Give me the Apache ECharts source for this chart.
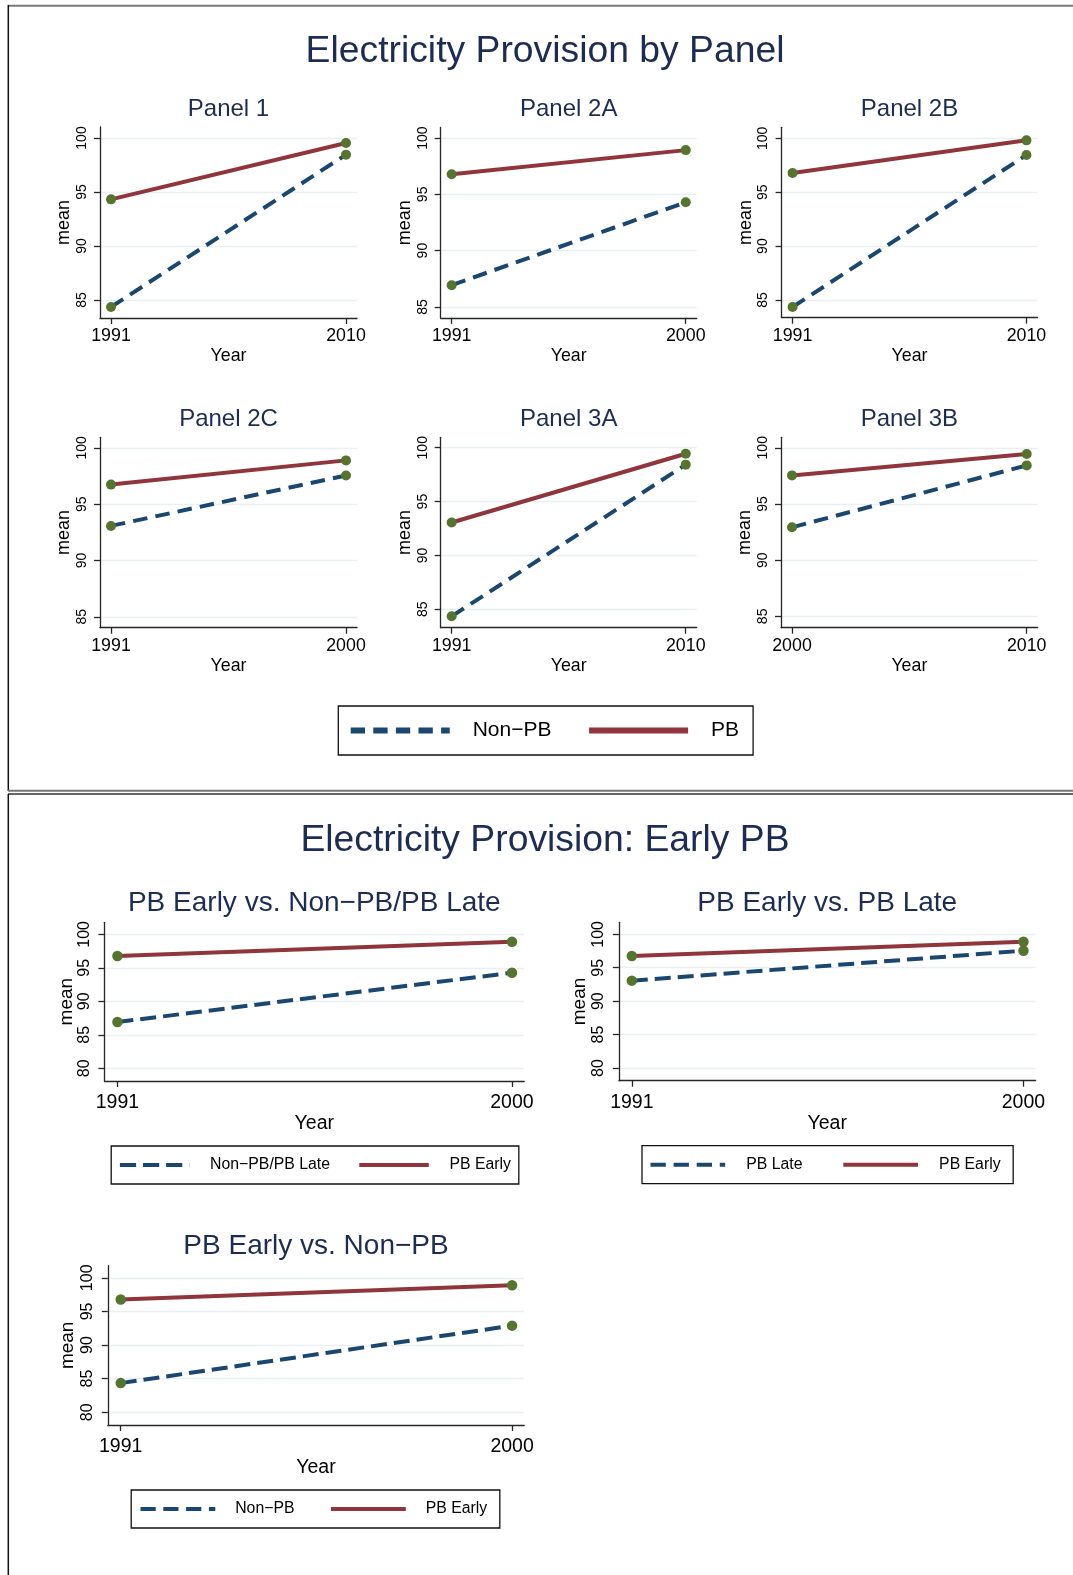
<!DOCTYPE html>
<html>
<head>
<meta charset="utf-8">
<script src="https://cdn.jsdelivr.net/npm/echarts@6/dist/echarts.min.js"></script>
<style>
html, body { margin: 0; padding: 0; background: #fff; }
#chart { width: 1073px; height: 1575px; }
</style>
</head>
<body>
<div id="chart"></div>
<script>
// ---- data ----
const mainTitles = ['Electricity Provision by Panel', 'Electricity Provision: Early PB'];

const panelNames = ['Panel 1', 'Panel 2A', 'Panel 2B', 'Panel 2C', 'Panel 3A', 'Panel 3B'];
const panelYears = [[1991, 2010], [1991, 2000], [1991, 2010], [1991, 2000], [1991, 2010], [2000, 2010]];
const panelNonPB = [[84.35, 98.46], [86.93, 94.30], [84.35, 98.45], [93.07, 97.55], [84.35, 98.43], [92.92, 98.43]];
const panelPB = [[94.32, 99.54], [96.79, 98.93], [96.78, 99.81], [96.74, 98.89], [93.06, 99.44], [97.54, 99.44]];
const panelYRange = [[83.33, 101.02], [84.03, 100.94], [83.36, 101.02], [84.03, 100.94], [83.29, 100.97], [83.99, 100.93]];
const panelTicks = [85, 90, 95, 100];

const earlyNames = ['PB Early vs. Non\u2212PB/PB Late', 'PB Early vs. PB Late', 'PB Early vs. Non\u2212PB'];
const earlyYears = [1991, 2000];
const earlyOther = [[86.9, 94.27], [93.07, 97.55], [84.33, 92.88]];
const earlyPB = [[96.76, 98.9], [96.76, 98.9], [96.76, 98.9]];
const earlyOtherLabels = ['Non\u2212PB/PB Late', 'PB Late', 'Non\u2212PB'];
const earlyTicks = [80, 85, 90, 95, 100];
const earlyYRange = [78.1, 101.8];

// ---- styles / layout ----
const FONT = '"Liberation Sans", Arial, Helvetica, sans-serif';
const BLUE = '#1a476f';
const RED = '#90353b';
const GREEN = '#55752f';
const TITLE = '#1c2c52';
const AXIS = '#262626';
const GRIDLINE = '#e8f0f2';

const panelGrids = [
    { left: 100, top: 127, width: 257, height: 191 },
    { left: 440.7, top: 127.5, width: 256, height: 190.3 },
    { left: 781.6, top: 127.3, width: 255.8, height: 190.4 },
    { left: 100, top: 437.3, width: 257, height: 190.4 },
    { left: 440.7, top: 437.3, width: 256, height: 190.4 },
    { left: 781, top: 437.3, width: 256.7, height: 190.4 }
];
const earlyGrids = [
    { left: 104.4, top: 922.3, width: 419.8, height: 158.7 },
    { left: 618.9, top: 922.3, width: 416.7, height: 158.4 },
    { left: 107.8, top: 1265.7, width: 416.4, height: 159.3 }
];
const panelTitleY = [109, 109, 109, 419, 419, 419];
const earlyTitleY = [903.3, 903.3, 1246.3];
const earlyNameGap = [28.3, 30, 31];

const dashPath = (w, h, dash, gap) => {
    let p = '';
    for (let x = 0; x < w; x += dash + gap) {
        const d = Math.min(dash, w - x);
        p += 'M' + x + ',0h' + d + 'v' + h + 'h' + (-d) + 'z';
    }
    return 'path://' + p;
};

const grids = [];
const xAxes = [];
const yAxes = [];
const series = [];
const titles = [];

const makeX = (i, years, lo, hi, fs, margin, gap) => ({
    type: 'value', gridIndex: i, min: lo, max: hi,
    name: 'Year', nameLocation: 'middle', nameGap: gap, nameMoveOverlap: false,
    nameTextStyle: { fontSize: fs, color: '#000', fontFamily: FONT },
    axisLine: { show: true, onZero: false, lineStyle: { color: AXIS, width: 1.3 } },
    axisTick: { show: true, length: 6, customValues: years, lineStyle: { color: AXIS, width: 1.3 } },
    axisLabel: { customValues: years, fontSize: fs, color: '#000', margin: margin, fontFamily: FONT,
        formatter: v => String(v) },
    splitLine: { show: false }
});
const makeY = (i, lo, hi, ticks, fs, nameFs, margin, gap) => ({
    type: 'value', gridIndex: i, min: lo, max: hi,
    name: 'mean', nameLocation: 'middle', nameRotate: 90, nameGap: gap, nameMoveOverlap: false,
    nameTextStyle: { fontSize: nameFs, color: '#000', fontFamily: FONT },
    axisLine: { show: true, onZero: false, lineStyle: { color: AXIS, width: 1.3 } },
    axisTick: { show: true, length: 6, customValues: ticks, lineStyle: { color: AXIS, width: 1.3 } },
    axisLabel: { customValues: ticks, rotate: 90, fontSize: fs, color: '#000', margin: margin, fontFamily: FONT },
    splitLine: { show: true, lineStyle: { color: GRIDLINE, width: 1.3 } }
});
const makeLine = (name, i, years, vals, color, dash, size) => ({
    type: 'line', name: name, xAxisIndex: i, yAxisIndex: i,
    data: years.map((y, k) => [y, vals[k]]),
    symbol: 'circle', symbolSize: size,
    itemStyle: { color: GREEN },
    lineStyle: { color: color, width: 4, type: dash, cap: 'butt' },
    emphasis: { disabled: true },
    silent: true
});

// top section: six panels
panelNames.forEach((name, i) => {
    const g = panelGrids[i];
    const yrs = panelYears[i];
    const span = yrs[1] - yrs[0];
    grids.push(Object.assign({ outerBoundsMode: 'none' }, g));
    const idx = grids.length - 1;
    xAxes.push(makeX(idx, yrs, yrs[0] - span * 11 / 235, yrs[1] + span * 11 / 235, 17.8, 9.5, 29.5));
    yAxes.push(makeY(idx, panelYRange[i][0], panelYRange[i][1], panelTicks, 14, 18, 11, 27));
    series.push(makeLine('Non\u2212PB', idx, yrs, panelNonPB[i], BLUE, [14.5, 8.2], 10));
    series.push(makeLine('PB', idx, yrs, panelPB[i], RED, 'solid', 10));
    titles.push({ text: name, left: g.left + g.width / 2, top: panelTitleY[i], padding: 0,
        textAlign: 'center', textVerticalAlign: 'middle',
        textStyle: { fontSize: 24, fontWeight: 'normal', color: TITLE, fontFamily: FONT } });
});

// bottom section: early PB comparisons
earlyNames.forEach((name, j) => {
    const g = earlyGrids[j];
    const span = earlyYears[1] - earlyYears[0];
    grids.push(Object.assign({ outerBoundsMode: 'none' }, g));
    const idx = grids.length - 1;
    xAxes.push(makeX(idx, earlyYears, earlyYears[0] - span * 0.033, earlyYears[1] + span * 0.031, 19.5, 11.5, 33));
    yAxes.push(makeY(idx, earlyYRange[0], earlyYRange[1], earlyTicks, 16, 19, 12, earlyNameGap[j]));
    series.push(makeLine(earlyOtherLabels[j], idx, earlyYears, earlyOther[j], BLUE, [16, 7], 10.5));
    series.push(makeLine('PB Early', idx, earlyYears, earlyPB[j], RED, 'solid', 10.5));
    titles.push({ text: name, left: g.left + g.width / 2, top: earlyTitleY[j], padding: 0,
        textAlign: 'center', textVerticalAlign: 'middle',
        textStyle: { fontSize: 28, fontWeight: 'normal', color: TITLE, fontFamily: FONT } });
});

titles.push({ text: mainTitles[0], left: 545, top: 51.5, padding: 0, textAlign: 'center', textVerticalAlign: 'middle',
    textStyle: { fontSize: 37.3, fontWeight: 'normal', color: TITLE, fontFamily: FONT } });
titles.push({ text: mainTitles[1], left: 545, top: 841, padding: 0, textAlign: 'center', textVerticalAlign: 'middle',
    textStyle: { fontSize: 37.3, fontWeight: 'normal', color: TITLE, fontFamily: FONT } });

const legendItem = (name, color, icon) => ({
    name: name, icon: icon, itemStyle: { color: color, borderColor: color, borderWidth: 0 }
});
const makeLegend = (left, top, pad, gap, w, h, fs, textPad, dash, gapDash, names) => ({
    orient: 'horizontal', left: left, top: top, padding: pad, itemGap: gap,
    itemWidth: w, itemHeight: h, selectedMode: false,
    borderColor: '#111', borderWidth: 1.3, backgroundColor: '#fff',
    textStyle: { fontSize: fs, color: '#000', fontFamily: FONT, padding: [0, 0, 0, textPad] },
    data: [legendItem(names[0], BLUE, dashPath(w, h, dash, gapDash)), legendItem(names[1], RED, 'rect')]
});

const legends = [
    makeLegend(338.3, 706, [14, 14, 14, 12.4], 37.6, 99, 6, 21, 18, 14.3, 8.3, ['Non\u2212PB', 'PB']),
    makeLegend(111.2, 1146, [11, 7.9, 11, 8.7], 29.3, 69.5, 4, 15.8, 15.7, 16.2, 6.9, [earlyOtherLabels[0], 'PB Early']),
    makeLegend(642, 1145.7, [11, 12.6, 11, 8.5], 40.8, 74.7, 4, 15.8, 16.1, 15.3, 7.8, [earlyOtherLabels[1], 'PB Early']),
    makeLegend(131.2, 1490, [11, 12.7, 11, 9.3], 36.5, 74.8, 4, 15.8, 14.9, 15.2, 7.6, [earlyOtherLabels[2], 'PB Early'])
];

const chart = echarts.init(document.getElementById('chart'));
chart.setOption({
    animation: false,
    backgroundColor: '#fff',
    textStyle: { fontFamily: FONT },
    title: titles,
    legend: legends,
    grid: grids,
    xAxis: xAxes,
    yAxis: yAxes,
    series: series,
    graphic: [
        { type: 'line', shape: { x1: 8, y1: 5.7, x2: 1073, y2: 5.7 }, style: { stroke: '#777', lineWidth: 2 } },
        { type: 'line', shape: { x1: 8.3, y1: 5, x2: 8.3, y2: 791 }, style: { stroke: '#111', lineWidth: 1.5 } },
        { type: 'line', shape: { x1: 8, y1: 790.7, x2: 1073, y2: 790.7 }, style: { stroke: '#777', lineWidth: 2 } },
        { type: 'line', shape: { x1: 8, y1: 794, x2: 1073, y2: 794 }, style: { stroke: '#333', lineWidth: 1.4 } },
        { type: 'line', shape: { x1: 8.3, y1: 794, x2: 8.3, y2: 1575 }, style: { stroke: '#111', lineWidth: 1.5 } }
    ]
});
</script>
</body>
</html>
